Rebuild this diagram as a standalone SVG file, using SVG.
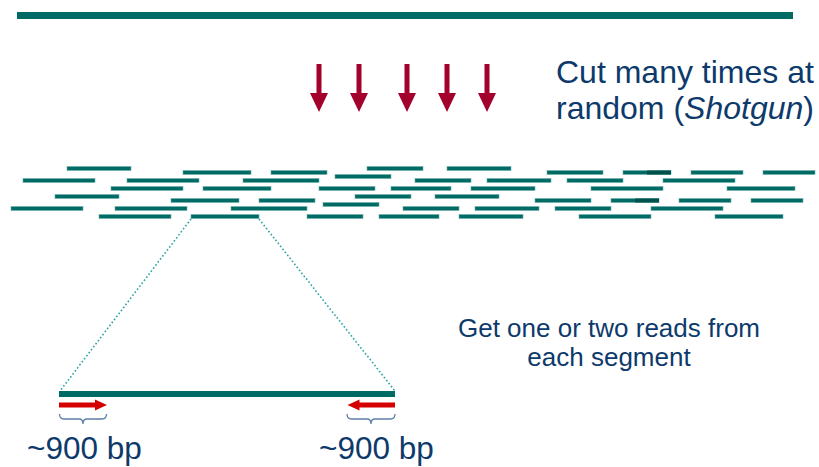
<svg xmlns="http://www.w3.org/2000/svg" width="819" height="467" viewBox="0 0 819 467">
<style>
.frag{fill:#006b65;stroke:#6fb0ac;stroke-width:0.6}
.dk{fill:#00504b}
.cut{fill:#a3002b}
.read{fill:#d40000}
.dot{stroke:#2aa3a3;stroke-width:1.6;stroke-dasharray:1.6 2.2;fill:none}
.brace{fill:none;stroke:#5d7fa8;stroke-width:1.3}
.t{font-family:"Liberation Sans",Arial,sans-serif;fill:#0d3a6b}
</style>
<defs>
<path id="dn" d="M-2.5,0 H2.5 V29 H9 L0,48 L-9,29 H-2.5 Z"/>
</defs>
<rect x="17" y="12" width="776" height="7" fill="#006b65"/>
<g id="cuts">
<use href="#dn" class="cut" x="319" y="64"/>
<use href="#dn" class="cut" x="359" y="64"/>
<use href="#dn" class="cut" x="407" y="64"/>
<use href="#dn" class="cut" x="447" y="64"/>
<use href="#dn" class="cut" x="487" y="64"/>
</g>
<text class="t" x="556" y="83" font-size="32">Cut many times at</text>
<text class="t" x="556" y="119" font-size="32">random (<tspan font-style="italic">Shotgun</tspan>)</text>
<g id="fragments">
<rect class="frag" x="67" y="166.5" width="64" height="4"/>
<rect class="frag" x="367" y="166.5" width="56" height="4"/>
<rect class="frag" x="447" y="166.5" width="64" height="4"/>
<rect class="frag" x="183" y="170.5" width="68" height="4"/>
<rect class="frag" x="271" y="170.5" width="56" height="4"/>
<rect class="frag" x="547" y="170.5" width="56" height="4"/>
<rect class="frag" x="623" y="170.5" width="48" height="4"/>
<rect class="dk" x="647" y="170.5" width="24" height="4"/>
<rect class="frag" x="691" y="170.5" width="52" height="4"/>
<rect class="frag" x="763" y="170.5" width="52" height="4"/>
<rect class="frag" x="335" y="174.5" width="56" height="4"/>
<rect class="frag" x="23" y="178.5" width="72" height="4"/>
<rect class="frag" x="127" y="178.5" width="72" height="4"/>
<rect class="frag" x="243" y="178.5" width="76" height="4"/>
<rect class="frag" x="415" y="178.5" width="56" height="4"/>
<rect class="frag" x="487" y="178.5" width="64" height="4"/>
<rect class="frag" x="567" y="178.5" width="56" height="4"/>
<rect class="frag" x="663" y="178.5" width="72" height="4"/>
<rect class="frag" x="111" y="186.5" width="72" height="4"/>
<rect class="frag" x="203" y="186.5" width="68" height="4"/>
<rect class="frag" x="319" y="186.5" width="56" height="4"/>
<rect class="frag" x="391" y="186.5" width="60" height="4"/>
<rect class="frag" x="471" y="186.5" width="64" height="4"/>
<rect class="frag" x="591" y="186.5" width="72" height="4"/>
<rect class="frag" x="727" y="186.5" width="68" height="4"/>
<rect class="frag" x="55" y="194.5" width="64" height="4"/>
<rect class="frag" x="355" y="194.5" width="56" height="4"/>
<rect class="frag" x="435" y="194.5" width="64" height="4"/>
<rect class="frag" x="171" y="198.5" width="68" height="4"/>
<rect class="frag" x="259" y="198.5" width="56" height="4"/>
<rect class="frag" x="535" y="198.5" width="56" height="4"/>
<rect class="frag" x="611" y="198.5" width="48" height="4"/>
<rect class="dk" x="635" y="198.5" width="24" height="4"/>
<rect class="frag" x="679" y="198.5" width="52" height="4"/>
<rect class="frag" x="751" y="198.5" width="52" height="4"/>
<rect class="frag" x="323" y="202.5" width="56" height="4"/>
<rect class="frag" x="11" y="206.5" width="72" height="4"/>
<rect class="frag" x="115" y="206.5" width="72" height="4"/>
<rect class="frag" x="231" y="206.5" width="76" height="4"/>
<rect class="frag" x="403" y="206.5" width="56" height="4"/>
<rect class="frag" x="475" y="206.5" width="64" height="4"/>
<rect class="frag" x="555" y="206.5" width="56" height="4"/>
<rect class="frag" x="651" y="206.5" width="72" height="4"/>
<rect class="frag" x="99" y="214.5" width="72" height="4"/>
<rect class="frag" x="191" y="214.5" width="68" height="4"/>
<rect class="frag" x="307" y="214.5" width="56" height="4"/>
<rect class="frag" x="379" y="214.5" width="60" height="4"/>
<rect class="frag" x="459" y="214.5" width="64" height="4"/>
<rect class="frag" x="579" y="214.5" width="72" height="4"/>
<rect class="frag" x="715" y="214.5" width="68" height="4"/>
</g>
<g id="connectors">
<line class="dot" x1="191" y1="219" x2="60" y2="391"/>
<line class="dot" x1="259" y1="219" x2="395" y2="391"/>
</g>
<g id="segment">
<rect x="59" y="391" width="336" height="6" fill="#006b65"/>
</g>
<g id="read-left">
<path class="read" d="M59,402.5 H95 V399.5 L107,405 L95,410.5 V407.5 H59 Z"/>
<path class="brace" d="M59.5,414 Q59.5,419 64,419 H79 Q83,419 83,424 Q83,419 87,419 H102 Q106.5,419 106.5,414"/>
<text class="t" x="27" y="459" font-size="31.5">~900 bp</text>
</g>
<g id="read-right">
<path class="read" d="M395,402.5 H359.5 V399.5 L347.5,405 L359.5,410.5 V407.5 H395 Z"/>
<path class="brace" d="M347,414 Q347,419 351.5,419 H367 Q371,419 371,424 Q371,419 375,419 H390.5 Q395,419 395,414"/>
<text class="t" x="319" y="459" font-size="31.5">~900 bp</text>
</g>
<text class="t" x="609" y="337" font-size="26" text-anchor="middle">Get one or two reads from</text>
<text class="t" x="609" y="366" font-size="26" text-anchor="middle">each segment</text>
</svg>
